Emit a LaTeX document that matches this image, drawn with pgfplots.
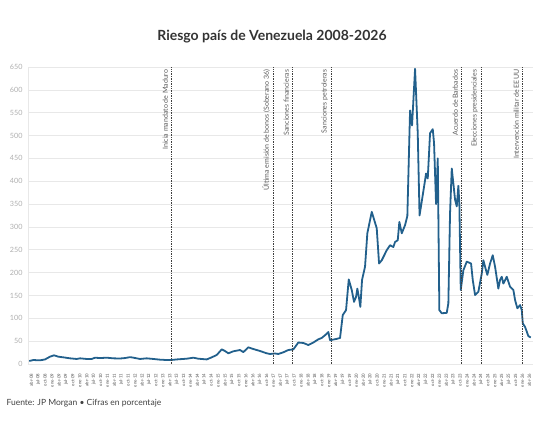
\documentclass[border=0pt]{standalone}
\usepackage{pgfplots}
\pgfplotsset{compat=1.18}
\usepackage{fontspec}
\setmainfont{Lato}
\definecolor{serie}{RGB}{34,96,140}
\definecolor{grid}{RGB}{232,232,232}
\definecolor{ticklab}{RGB}{175,175,175}
\definecolor{evt}{RGB}{90,90,90}
\begin{document}
\begin{tikzpicture}
\useasboundingbox (0,0) rectangle (540pt,430pt);
\node[font=\bfseries\fontsize{14}{16}\selectfont, text=black!80] at (272pt,393pt) {Riesgo país de Venezuela 2008-2026};
\node[anchor=west, font=\fontsize{8.5}{10}\selectfont, text=black!75] at (3pt,27pt) {Fuente: JP Morgan • Cifras en porcentaje};
\begin{axis}[
  at={(28pt,66pt)}, anchor=south west,
  scale only axis, width=505pt, height=297pt,
  xmin=2008.128, xmax=2026.39, ymin=0, ymax=650,
  axis x line=bottom, axis y line=left,
  axis line style={draw=grid, -},
  ytick={0,50,...,650},
  ymajorgrids, grid style={draw=grid, line width=0.6pt},
  yticklabel style={font=\fontsize{7.2}{8}\selectfont, text=ticklab, xshift=-2pt},
  major tick length=0pt,
  xtick={2008.25,2008.5,...,2026.3},
  xticklabels={abr-08,jul-08,oct-08,ene-09,abr-09,jul-09,oct-09,ene-10,abr-10,jul-10,oct-10,ene-11,abr-11,jul-11,oct-11,ene-12,abr-12,jul-12,oct-12,ene-13,abr-13,jul-13,oct-13,ene-14,abr-14,jul-14,oct-14,ene-15,abr-15,jul-15,oct-15,ene-16,abr-16,jul-16,oct-16,ene-17,abr-17,jul-17,oct-17,ene-18,abr-18,jul-18,oct-18,ene-19,abr-19,jul-19,oct-19,ene-20,abr-20,jul-20,oct-20,ene-21,abr-21,jul-21,oct-21,ene-22,abr-22,jul-22,oct-22,ene-23,abr-23,jul-23,oct-23,ene-24,abr-24,jul-24,oct-24,ene-25,abr-25,jul-25,oct-25,ene-26,abr-26},
  xticklabel style={font=\fontsize{4.3}{5}\selectfont, text=black!70, rotate=90, anchor=east, xshift=-6pt},
  /pgf/number format/assume math mode=true,
  clip=false,
]
\addplot[serie, line width=1.8pt, line join=round] coordinates {
(2008.175,6.6) (2008.32,8.7) (2008.562,8) (2008.743,10) (2008.924,16) (2009.069,19) (2009.224,16) (2009.405,14.6) (2009.647,12.4) (2009.889,11) (2010.009,12.4) (2010.251,11) (2010.432,11) (2010.551,13.8) (2010.732,13) (2010.975,13.8) (2011.213,12.4) (2011.455,12) (2011.636,13) (2011.817,15) (2011.926,14) (2012.179,11) (2012.421,12.4) (2012.660,11) (2012.902,9.5) (2013.144,8.7) (2013.30,8.7) (2013.506,10) (2013.868,11.6) (2014.107,13.8) (2014.287,11.6) (2014.591,10) (2014.772,14.6) (2014.953,19.7) (2015.134,32) (2015.253,28.4) (2015.372,23.4) (2015.553,27.8) (2015.795,30.6) (2015.915,26) (2016.096,36.5) (2016.276,32.8) (2016.519,28.4) (2016.761,23.4) (2016.880,21.9) (2017.061,23) (2017.181,21.9) (2017.361,25.6) (2017.542,30.6) (2017.723,32) (2017.904,47) (2018.085,46) (2018.266,41.5) (2018.446,47) (2018.627,54) (2018.750,57) (2018.870,63) (2018.989,70) (2019.050,52) (2019.293,55) (2019.412,57) (2019.510,107) (2019.629,118) (2019.727,185) (2019.835,162) (2019.918,136) (2019.991,147) (2020.038,165) (2020.099,144) (2020.146,125) (2020.208,184) (2020.316,213) (2020.399,286) (2020.559,333) (2020.739,297) (2020.823,220) (2020.920,227) (2021.101,249) (2021.220,260) (2021.340,256) (2021.401,267) (2021.499,271) (2021.557,311) (2021.644,286) (2021.763,304) (2021.846,324) (2021.944,555) (2022.016,522) (2022.125,646) (2022.222,505) (2022.287,325) (2022.378,360) (2022.486,402) (2022.522,417) (2022.584,406) (2022.667,505) (2022.765,514) (2022.812,483) (2022.884,350) (2022.946,450) (2023.003,118) (2023.090,111) (2023.271,112) (2023.329,133) (2023.390,330) (2023.452,428) (2023.571,360) (2023.633,345) (2023.691,390) (2023.727,350) (2023.777,162) (2023.871,205) (2023.994,224) (2024.150,220) (2024.211,184) (2024.295,151) (2024.414,158) (2024.537,198) (2024.595,227) (2024.692,205) (2024.739,195) (2024.837,220) (2024.935,238) (2025.018,213) (2025.137,165) (2025.199,184) (2025.260,191) (2025.318,176) (2025.441,191) (2025.560,169) (2025.680,162) (2025.741,140) (2025.824,122) (2025.922,129) (2025.984,118) (2026.020,89) (2026.103,81) (2026.164,71) (2026.222,61) (2026.309,58)
};
\pgfplotsinvokeforeach{2013.30,2016.989,2017.676,2019.087,2023.788,2024.512,2025.994}{
  \addplot[black!75, line width=0.7pt, densely dotted] coordinates {(#1,0) (#1,650)};
}
\tikzset{evlab/.style={rotate=90, anchor=south east, font=\fontsize{7}{8}\selectfont, text=evt, inner sep=0.5pt, xshift=-2pt, yshift=2.5pt}}
\node[evlab] at (axis cs:2013.30,650) {Inicia mandato de Maduro};
\node[evlab] at (axis cs:2016.989,650) {Última emisión de bonos (Soberano 36)};
\node[evlab] at (axis cs:2017.676,650) {Sanciones financieras};
\node[evlab] at (axis cs:2019.087,650) {Sanciones petroleras};
\node[evlab] at (axis cs:2023.788,650) {Acuerdo de Barbados};
\node[evlab] at (axis cs:2024.512,650) {Elecciones presidenciales};
\node[evlab] at (axis cs:2025.994,650) {Intervención militar de EEUU};
\end{axis}
\end{tikzpicture}
\end{document}
